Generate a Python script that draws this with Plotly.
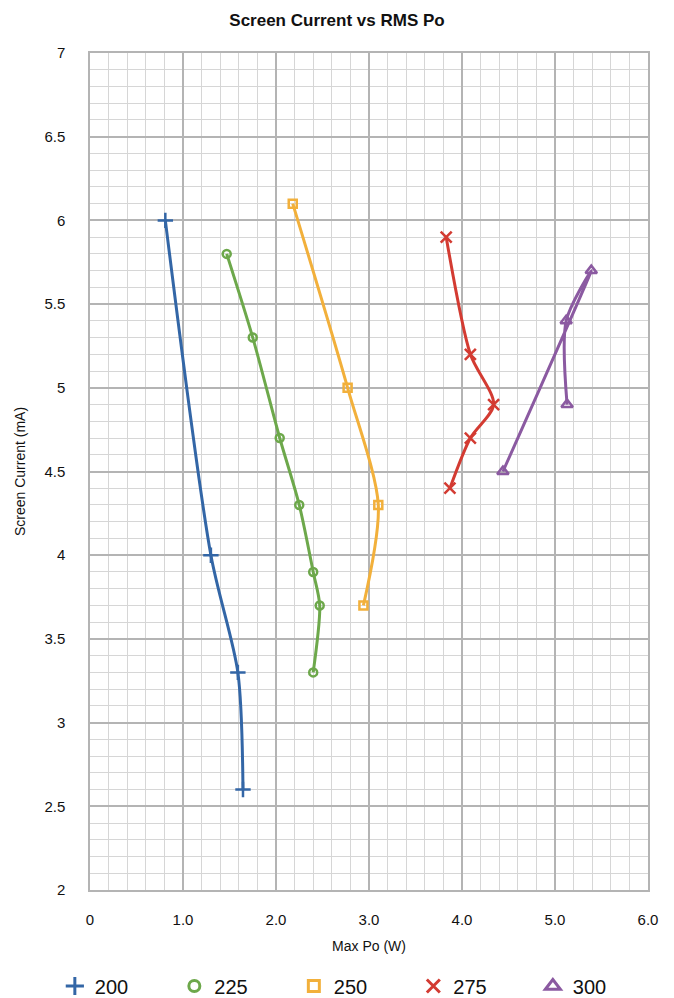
import plotly.graph_objects as go

names = ["200", "225", "250", "275", "300"]
x200 = [0.81, 1.30, 1.59, 1.645]
y200 = [6.0, 4.0, 3.3, 2.6]
x225 = [1.47, 1.75, 2.04, 2.25, 2.40, 2.47, 2.40]
y225 = [5.8, 5.3, 4.7, 4.3, 3.9, 3.7, 3.3]
x250 = [2.18, 2.77, 3.10, 2.94]
y250 = [6.1, 5.0, 4.3, 3.7]
x275 = [3.83, 4.09, 4.34, 4.09, 3.87]
y275 = [5.9, 5.2, 4.9, 4.7, 4.4]
x300 = [5.13, 5.12, 5.39, 4.44]
y300 = [4.9, 5.4, 5.7, 4.5]

xs = [x200, x225, x250, x275, x300]
ys = [y200, y225, y250, y275, y300]
colors = ["#3366A6", "#6DA84B", "#F2B03B", "#D33B32", "#8B5AA1"]
symbols = ["cross-thin-open", "circle-open", "square-open", "x-thin-open", "triangle-up-open"]
sizes = [11, 8, 8, 11, 10]
legend_sizes = [13, 11, 11, 13, 13]

fig = go.Figure()
for n, x, y, c, s, sz in zip(names, xs, ys, colors, symbols, sizes):
    fig.add_trace(go.Scatter(
        x=x, y=y, name=n, mode="lines+markers", showlegend=False, legendgroup=n,
        line=dict(color=c, width=3, shape="spline", smoothing=0.8),
        marker=dict(symbol=s, size=sz, color=c, line=dict(color=c, width=2.5)),
    ))
# legend entries (marker only, as in the reference legend)
for n, c, s, sz in zip(names, colors, symbols, legend_sizes):
    fig.add_trace(go.Scatter(
        x=[None], y=[None], name=n, mode="markers", legendgroup=n,
        marker=dict(symbol=s, size=sz, color=c, line=dict(color=c, width=3)),
    ))

xt = [0, 1, 2, 3, 4, 5, 6]
xl = ["0", "1.0", "2.0", "3.0", "4.0", "5.0", "6.0"]
yt = [2, 2.5, 3, 3.5, 4, 4.5, 5, 5.5, 6, 6.5, 7]
yl = ["2", "2.5", "3", "3.5", "4", "4.5", "5", "5.5", "6", "6.5", "7"]

fig.update_layout(
    width=674, height=998,
    margin=dict(l=90, r=26, t=53, b=108, autoexpand=False),
    paper_bgcolor="white", plot_bgcolor="white",
    font=dict(family="Liberation Sans, Arial, sans-serif", color="#111111"),
    title=dict(text="<b>Screen Current vs RMS Po</b>", x=0.5, xanchor="center",
               y=0.980, yanchor="middle", font=dict(size=17)),
    legend=dict(orientation="h", x=-0.063, xanchor="left", y=-0.1147, yanchor="middle",
                font=dict(size=20), entrywidth=74.5, entrywidthmode="pixels"),
    xaxis=dict(range=[0, 6], tickvals=xt, ticktext=xl, tickfont=dict(size=15),
               showgrid=True, gridcolor="#b4b4b4", gridwidth=1.5,
               minor=dict(dtick=0.2, showgrid=True, gridcolor="#d6d6d6", gridwidth=1),
               showline=True, linecolor="#b4b4b4", linewidth=1.5, mirror=True,
               zeroline=False, ticks="", ticklabelstandoff=15,
               title=dict(text="Max Po (W)", font=dict(size=14), standoff=14)),
    yaxis=dict(range=[2, 7], tickvals=yt, ticktext=yl, tickfont=dict(size=15),
               showgrid=True, gridcolor="#b4b4b4", gridwidth=1.5,
               minor=dict(dtick=0.1, showgrid=True, gridcolor="#d6d6d6", gridwidth=1),
               showline=True, linecolor="#b4b4b4", linewidth=1.5, mirror=True,
               zeroline=False, ticks="", ticklabelstandoff=20,
               title=dict(text="Screen Current (mA)", font=dict(size=14), standoff=15)),
)

fig.write_html("out.html", config={"displayModeBar": False},
               post_script="document.body.style.margin='0px';")
